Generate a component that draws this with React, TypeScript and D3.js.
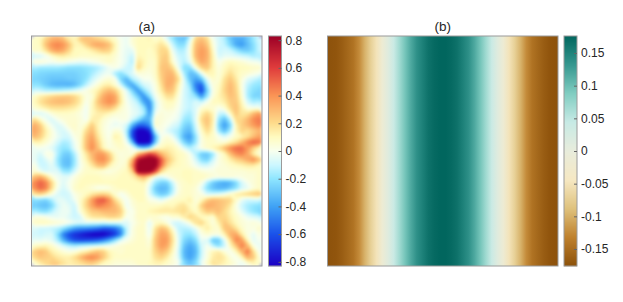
import * as d3 from 'd3';
import React, { useRef, useEffect } from 'react';

// panel (a) vorticity, 40 x 40, in hundredths
const vorticity: number[][] = [
  [8,10,22,30,32,28,15,12,25,28,26,22,18,12,8,0,-3,6,10,10, 12,6,10,-5,-18,-28,-30,-8,22,28,20,0,-8,-14,-28,-36,-36,-28,-18,-8],
  [8,10,28,40,44,40,28,12,12,22,32,36,34,28,12,0,-3,4,10,10, 10,12,18,10,-10,-22,-22,0,28,34,26,4,-8,-12,-24,-38,-42,-32,-22,-10],
  [8,8,18,32,38,34,22,10,10,10,14,20,25,22,10,0,-4,-5,10,10, 8,12,22,22,-3,-14,-14,2,30,38,32,8,-10,-8,-10,-18,-26,-28,-22,-10],
  [-8,-8,-2,6,12,14,12,10,8,8,8,8,8,10,6,0,-5,-12,12,10, 8,10,22,25,3,-10,-12,0,30,38,32,12,-8,-4,-4,-6,-8,-10,-15,-14],
  [5,6,3,0,2,3,0,-2,-4,-3,0,2,6,8,4,0,-5,-15,18,12, 6,8,24,26,6,-6,-14,-4,20,35,30,12,0,6,10,8,6,2,0,-2],
  [-14,-18,-18,-18,-18,-20,-22,-22,-22,-20,-18,-15,-10,-2,2,-2,-10,-10,22,10, 5,8,26,28,20,-2,-22,-22,3,22,26,12,3,10,14,12,10,10,8,8],
  [-22,-24,-25,-26,-26,-26,-26,-26,-24,-22,-16,-10,-4,-2,-16,-22,-12,-6,5,4, 3,8,24,30,30,10,-15,-32,-28,-4,12,12,4,12,20,12,8,6,3,0],
  [-24,-26,-28,-30,-30,-30,-28,-28,-25,-20,-10,-3,3,6,2,-25,-35,-14,-8,0, 0,6,22,32,33,20,-8,-30,-40,-30,-5,8,5,18,26,16,4,-6,-10,-14],
  [-20,-22,-28,-33,-35,-35,-36,-33,-24,-12,-3,5,12,14,6,-8,-30,-40,-20,-8, -5,3,18,33,30,12,-6,-20,-50,-58,-15,4,8,20,30,20,2,-12,-18,-20],
  [-8,-10,-14,-14,-14,-12,-10,-6,-2,3,8,14,24,30,24,10,-5,-25,-42,-22, -10,2,14,28,26,8,-8,-14,-42,-65,-26,2,10,22,30,22,4,-15,-22,-24],
  [8,14,18,22,25,26,26,22,14,3,4,20,34,40,36,14,-2,-12,-28,-45, -22,-2,8,18,18,4,-8,-14,-20,-42,-18,4,12,18,28,24,6,-15,-25,-24],
  [10,18,24,28,30,30,28,22,14,0,8,26,36,42,36,16,0,-6,-14,-38, -45,-8,4,10,10,2,-8,-12,-6,-10,0,10,10,14,24,26,10,-8,-15,-12],
  [6,10,14,18,18,18,16,14,8,-3,10,20,26,28,20,8,2,-4,-8,-18, -48,-8,3,8,6,0,-8,-12,-6,6,8,6,0,6,20,28,14,2,0,0],
  [-6,-8,-4,4,8,8,8,6,3,-2,10,14,14,10,6,4,2,-3,-6,-14, -42,-2,5,2,2,-2,-12,-16,-6,14,22,12,-10,-12,8,26,16,18,30,38],
  [20,8,-2,-7,0,5,6,6,5,-2,14,14,6,2,0,2,2,-8,-20,-35, -35,6,5,2,0,-4,-18,-20,-5,20,28,14,-20,-32,-12,20,22,30,42,46],
  [33,25,8,-2,-7,-3,6,8,3,10,25,12,4,0,-4,-2,-8,-35,-55,-55, -45,8,3,0,-6,-10,-24,-28,-8,14,26,12,-25,-42,-25,12,24,30,38,44],
  [35,28,14,4,-5,-8,-2,6,5,20,30,14,4,0,6,4,-15,-60,-85,-85, -72,-10,3,-6,-12,-16,-30,-34,-12,8,20,10,-18,-32,-15,10,22,18,24,30],
  [30,24,12,4,-3,-8,-8,2,6,26,36,18,6,0,14,10,-10,-62,-85,-85, -85,-35,0,5,-2,-16,-36,-42,-20,4,12,8,0,-6,0,8,12,18,28,36],
  [12,12,6,0,-8,-16,-14,-2,6,28,40,24,8,2,8,10,-2,-30,-85,-85, -80,-28,4,8,6,-6,-24,-34,-18,3,8,8,5,5,12,18,30,44,52,48],
  [-2,0,-2,-5,-14,-20,-18,-4,6,28,42,28,10,3,5,8,5,0,-20,-30, -20,5,10,14,12,6,-6,-14,-8,3,8,12,18,30,42,50,50,38,22,10],
  [-3,-8,2,3,-14,-26,-28,-14,3,16,30,38,38,24,8,3,5,3,30,45, 60,50,32,22,14,10,8,0,-14,-28,-30,-18,2,10,28,40,44,34,14,4],
  [-2,-12,-6,0,-18,-30,-32,-18,2,12,26,40,42,30,10,4,6,30,75,85, 90,85,55,30,18,10,8,3,-8,-22,-26,-10,3,8,14,22,26,34,42,28],
  [3,-10,-10,-4,-15,-30,-32,-16,0,8,16,28,30,14,6,5,8,40,85,90, 90,85,50,22,12,10,8,5,-2,-8,-8,-3,3,5,8,10,12,15,15,10],
  [6,-2,-8,-6,-6,-18,-20,-8,3,8,8,6,4,2,5,8,10,22,85,88, 85,60,22,10,8,8,10,10,8,5,3,3,5,5,5,5,5,6,6,8],
  [28,34,22,6,-2,-5,-4,3,8,10,10,10,8,8,8,10,10,12,22,30, 15,-4,-6,0,6,8,10,10,8,10,8,5,3,5,5,3,3,5,5,8],
  [42,52,44,22,2,-6,0,6,10,10,10,10,10,10,10,10,10,10,10,12, -2,-18,-26,-26,-10,5,8,10,8,2,-15,-28,-35,-38,-35,-25,-8,0,5,8],
  [40,50,44,20,0,-8,-2,8,10,8,4,0,0,2,8,10,10,10,10,10, -8,-28,-34,-32,-15,3,8,8,5,-6,-22,-30,-35,-34,-28,-20,-8,-4,4,8],
  [18,22,14,4,-6,-10,-8,2,6,10,16,20,22,18,6,-2,4,10,10,10, -6,-20,-28,-25,-10,5,8,8,5,2,-8,-8,-5,0,8,14,18,22,25,28],
  [-22,-24,-26,-16,-5,-4,-9,-2,8,20,38,52,55,42,20,8,-2,6,10,10, 2,0,-5,2,8,8,10,14,4,10,24,30,28,25,22,8,-4,-10,-8,-8],
  [-26,-30,-32,-25,-10,-2,-5,-10,8,22,36,46,42,38,30,18,-3,4,8,8, 8,8,10,12,10,16,18,10,6,24,34,32,28,24,16,2,-10,-16,-20,-22],
  [-14,-20,-22,-14,-6,-2,-3,-12,5,16,25,26,30,30,30,24,4,0,8,8, 12,14,16,16,16,18,20,14,8,16,26,24,28,20,12,4,-5,-14,-20,-24],
  [4,4,2,-2,-4,-2,-6,-10,-8,10,16,18,18,22,22,18,0,2,8,8, 6,6,2,0,6,6,14,22,18,10,8,5,22,22,14,8,3,-3,-6,-8],
  [8,10,10,8,6,4,0,-4,-6,-4,-6,-6,-8,-6,-6,-6,-6,0,6,8, -6,8,10,4,-8,-10,-5,3,18,22,12,3,14,26,18,10,5,3,5,3],
  [-6,-10,-10,-12,-14,-22,-32,-42,-46,-48,-50,-54,-60,-60,-55,-42,-12,3,8,8, -4,18,30,24,6,-12,-14,-12,-5,8,15,8,6,26,28,18,8,2,2,8],
  [-8,-10,-8,-6,-22,-48,-62,-70,-75,-80,-84,-86,-85,-78,-68,-48,-10,3,8,8, -3,22,36,34,14,-8,-18,-20,-12,2,6,4,3,12,32,36,15,3,-5,3],
  [-3,-4,-2,-5,-15,-35,-52,-62,-65,-64,-62,-58,-50,-38,-22,-6,0,5,8,8, 3,26,38,38,18,-6,-24,-30,-22,-3,-6,-30,-28,-6,18,44,38,10,-5,0],
  [8,10,12,8,0,-6,-12,-15,-12,-10,-8,-6,-3,0,3,6,8,8,8,8, 5,25,38,34,14,-6,-30,-38,-30,-8,0,-12,-22,-10,10,26,46,30,3,-3],
  [24,30,26,14,10,5,2,4,10,14,22,28,24,12,8,6,8,8,8,8, 8,22,30,24,10,-8,-34,-40,-34,-10,3,12,15,5,0,10,30,48,20,0],
  [20,26,24,22,16,14,14,20,30,40,44,38,26,14,8,8,8,8,8,8, 8,18,22,15,5,-6,-32,-40,-30,-8,3,15,18,15,4,0,10,32,26,5],
  [6,14,20,24,24,18,14,15,18,22,24,18,10,8,5,5,5,5,8,8, 10,12,12,8,5,0,-22,-30,-22,-3,8,18,16,12,8,3,-3,5,12,8],
];

// panel (b) only changes left to right
const meanProfile = [
  -0.174,-0.172,-0.165,-0.155,-0.145,-0.125,-0.098,-0.072,-0.05,-0.015,
  0.012,0.04,0.068,0.095,0.118,0.138,0.152,0.165,0.172,0.176,
  0.176,0.172,0.165,0.152,0.138,0.118,0.095,0.068,0.04,0.012,
  -0.015,-0.05,-0.072,-0.098,-0.125,-0.145,-0.155,-0.165,-0.172,-0.174,
];

const ticksA = [0.8,0.6,0.4,0.2,0,-0.2,-0.4,-0.6,-0.8];
const ticksB = [0.15,0.1,0.05,0,-0.05,-0.1,-0.15];

const stopsA = [-0.83,-0.6,-0.4,-0.2,-0.1,0,0.1,0.2,0.4,0.6,0.83];
const coloursA = ['#1c00c4','#1a52ea','#3fa2f5','#8fe6ff','#cdf7ff','#f8ffee','#fffbc0','#fedc8c','#fa9455','#e03c3c','#9c0026'];
const stopsB = [-0.176,-0.132,-0.088,-0.044,0,0.044,0.088,0.132,0.176];
const coloursB = ['#8c510a','#bf812d','#dfc27d','#f6e8c3','#e8ecdc','#c7eae5','#80cdc1','#35978f','#01665e'];

const top = 36, bottom = 266, font = '"Liberation Sans", Arial, sans-serif';

function drawFrame(svg: any, x: number, w: number) {
  svg.append('rect').attr('x', x).attr('y', top).attr('width', w).attr('height', bottom - top)
    .attr('fill', 'none').attr('stroke', '#9a9a9a').attr('stroke-width', 1);
}

function drawColorbar(svg: any, barX: number, range: number[], color: any, ticks: number[]) {
  const barW = 13;
  const y = d3.scaleLinear().domain(range).range([bottom, top]);
  svg.append('g').selectAll('rect').data(d3.range(top, bottom)).enter().append('rect')
    .attr('x', barX).attr('y', (d: number) => d).attr('width', barW).attr('height', 1.2)
    .attr('fill', (d: number) => color(y.invert(d + 0.5)));
  drawFrame(svg, barX, barW);

  const axis = svg.append('g').attr('transform', `translate(${barX + barW},0)`)
    .call(d3.axisRight(y).tickValues(ticks).tickFormat((d: any) => String(d)).tickSizeInner(-3).tickSizeOuter(0));
  axis.select('.domain').remove();
  axis.selectAll('line').attr('stroke', '#666');
  axis.selectAll('text').attr('x', 4).attr('font-family', font).attr('font-size', 12).attr('fill', '#262626');
}

function drawTitle(svg: any, cx: number, label: string) {
  svg.append('text').attr('x', cx).attr('y', 31).attr('text-anchor', 'middle')
    .attr('font-family', font).attr('font-size', 13.5).attr('fill', '#262626').text(label);
}

export default function App() {
  const ref = useRef<SVGSVGElement>(null);

  useEffect(() => {
    const svg = d3.select(ref.current);
    svg.selectAll('*').remove();
    const defs = svg.append('defs');

    // (a)
    const xa0 = 31.5, xa1 = 262, n = 40;
    const rangeA = [-0.83, 0.83], bands = 90;
    const colorA = d3.scaleLinear<string>().domain(stopsA).range(coloursA).clamp(true);
    const levels = d3.range(bands).map(i => rangeA[0] + (rangeA[1] - rangeA[0]) * i / bands);
    const contours = d3.contours().size([n, n]).thresholds(levels)(vorticity.flat().map(v => v / 100));
    const sx = d3.scaleLinear().domain([0, n]).range([xa0, xa1]);
    const sy = d3.scaleLinear().domain([0, n]).range([top, bottom]);
    const geo = d3.geoPath(d3.geoTransform({
      point(this: any, px: number, py: number) { this.stream.point(sx(px), sy(py)); },
    }));

    const blur = defs.append('filter').attr('id', 'soft').attr('filterUnits', 'userSpaceOnUse')
      .attr('x', xa0).attr('y', top).attr('width', xa1 - xa0).attr('height', bottom - top)
      .attr('color-interpolation-filters', 'sRGB');
    blur.append('feGaussianBlur').attr('stdDeviation', 1.5).attr('edgeMode', 'duplicate');

    const g = svg.append('g').attr('filter', 'url(#soft)');
    g.append('rect').attr('x', xa0).attr('y', top).attr('width', xa1 - xa0).attr('height', bottom - top)
      .attr('fill', colorA(rangeA[0]));
    g.selectAll('path').data(contours).enter().append('path')
      .attr('d', geo as any)
      .attr('fill', (d: any) => colorA(d.value + (rangeA[1] - rangeA[0]) / bands / 2));
    drawFrame(svg, xa0, xa1 - xa0);
    drawTitle(svg, (xa0 + xa1) / 2, '(a)');
    drawColorbar(svg, 268.5, rangeA, colorA, ticksA);

    // (b)
    const xb0 = 327.5, xb1 = 558;
    const rangeB = [-0.176, 0.176];
    const colorB = d3.scaleLinear<string>().domain(stopsB).range(coloursB).clamp(true);
    const t = d3.scaleLinear().domain([-0.5, meanProfile.length - 0.5]).range([0, 100]);
    const grad = defs.append('linearGradient').attr('id', 'profile');
    grad.selectAll('stop').data(meanProfile).enter().append('stop')
      .attr('offset', (_: number, i: number) => t(i) + '%')
      .attr('stop-color', (d: number) => colorB(d));
    svg.append('rect').attr('x', xb0).attr('y', top).attr('width', xb1 - xb0).attr('height', bottom - top)
      .attr('fill', 'url(#profile)');
    drawFrame(svg, xb0, xb1 - xb0);
    drawTitle(svg, (xb0 + xb1) / 2, '(b)');
    drawColorbar(svg, 564, rangeB, colorB, ticksB);
  }, []);

  return <svg ref={ref} width={623} height={302} style={{ position: 'absolute', left: 0, top: 0, background: '#fff' }} />;
}
